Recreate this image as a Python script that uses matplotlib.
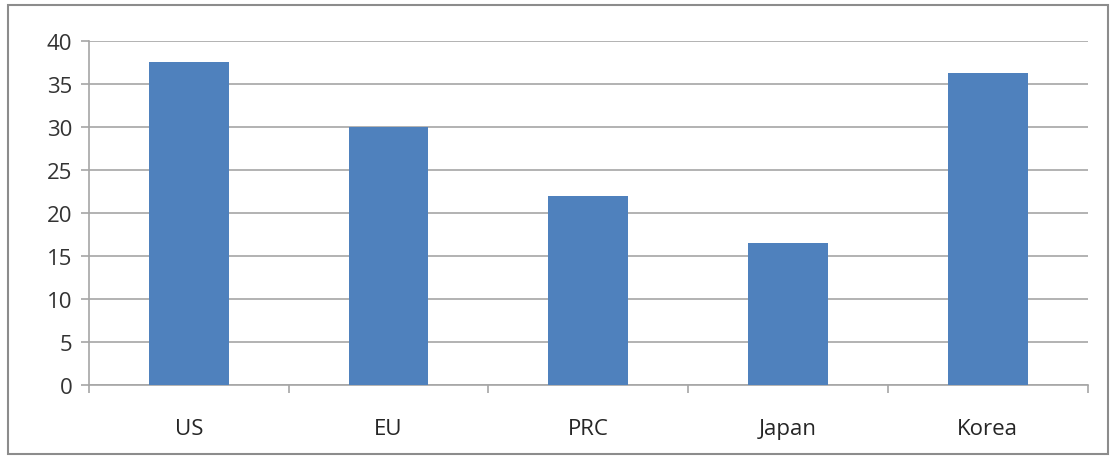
import matplotlib
matplotlib.use("Agg")
import matplotlib.pyplot as plt
from matplotlib.patches import Rectangle
import numpy as np

categories = ["US", "EU", "PRC", "Japan", "Korea"]
values = [37.5, 30.0, 22.0, 16.5, 36.3]
yticks = [0, 5, 10, 15, 20, 25, 30, 35, 40]

plt.rcParams["font.family"] = ["Open Sans", "DejaVu Sans"]

fig = plt.figure(figsize=(11.12, 4.6), dpi=100)
ax = fig.add_axes([0.080, 0.161, 0.898, 0.748])

x = np.arange(len(categories))
ax.bar(x, values, width=0.4, color="#4f81bd", zorder=3)

ax.set_xlim(-0.5, len(categories) - 0.5)
ax.set_ylim(0, 40)
ax.set_yticks(yticks)
ax.set_xticks(x)
ax.set_xticklabels(categories)
ax.set_xticks(np.arange(-0.5, len(categories)), minor=True)

ax.yaxis.grid(True, color="#a6a6a6", linewidth=1.2, zorder=0)
for s in ["top", "right"]:
    ax.spines[s].set_visible(False)
for s in ["left", "bottom"]:
    ax.spines[s].set_color("#a6a6a6")
    ax.spines[s].set_linewidth(1.2)

ax.tick_params(axis="y", labelsize=16, labelcolor="#333333", length=6, width=1.2,
               color="#a6a6a6", pad=6)
ax.tick_params(axis="x", which="major", length=0, labelsize=16, labelcolor="#262626", pad=24)
ax.tick_params(axis="x", which="minor", length=6, width=1.2, color="#a6a6a6")

# outer chart border
fig.patches.append(Rectangle((8 / 1112, 5 / 460), 1100 / 1112, 449 / 460,
                             transform=fig.transFigure, fill=False,
                             edgecolor="#8c8c8c", linewidth=1.5))

fig.savefig("out.png", dpi=100)
